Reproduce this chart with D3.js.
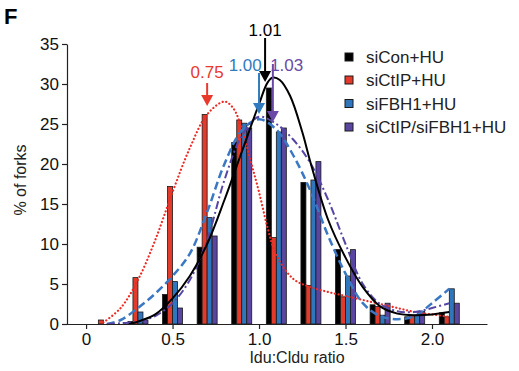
<!DOCTYPE html>
<html>
<head>
<meta charset="utf-8">
<script src="https://cdn.jsdelivr.net/npm/d3@7"></script>
<style>
  body { margin: 0; background: #fff; }
  svg { font-family: "Liberation Sans", Arial, sans-serif; }
</style>
</head>
<body>
<svg width="519" height="371"></svg>
<script>
// bin centres of the histogram (Idu:Cldu ratio)
var bins = [0.1, 0.3, 0.5, 0.7, 0.9, 1.1, 1.3, 1.5, 1.7, 1.9, 2.1];
var groups = ["siCon+HU", "siCtIP+HU", "siFBH1+HU", "siCtIP/siFBH1+HU"];

// % of forks per bin
var siCon = [0, 0.3, 3.7, 9.6, 22.7, 29.5, 17.7, 9.3, 2.4, 0.9, 1.4];
var siCtIP = [0.5, 5.8, 17.2, 26.2, 25.5, 10.8, 4.8, 3.4, 2.2, 1.1, 0.9];
var siFBH1 = [0, 1.5, 5.3, 13.3, 25.1, 24.0, 18.0, 6.0, 1.1, 1.1, 4.4];
var siBoth = [0, 0.5, 2.0, 11.0, 24.5, 24.5, 20.3, 9.3, 2.6, 1.6, 2.6];

// fitted curves as [ratio, %]
var fitCon = [[0.25,0],[0.3,0.3],[0.4,1.2],[0.5,3.2],[0.6,6.0],[0.7,10],[0.8,15.5],[0.9,21.5],[1.0,27.5],[1.05,30.2],[1.08,30.8],[1.12,30.5],[1.18,28.5],[1.25,24],[1.3,20],[1.4,13],[1.5,8.3],[1.6,4.6],[1.7,2.2],[1.8,1.3],[1.9,1.1],[2.0,1.2],[2.1,1.5]];
var fitCtIP = [[0.1,0.2],[0.2,2.0],[0.3,5.5],[0.4,10.5],[0.5,16.5],[0.6,22],[0.7,26.2],[0.8,27.8],[0.85,27],[0.9,24.5],[0.95,20.5],[1.0,16.5],[1.05,12],[1.1,8.6],[1.2,5.6],[1.3,4.6],[1.4,4.0],[1.5,3.5],[1.6,3.0],[1.7,2.5],[1.8,2.0],[1.9,1.5],[2.0,1.2],[2.1,0.9]];
var fitFBH1 = [[0.12,0],[0.2,0.5],[0.3,2.0],[0.4,3.8],[0.5,6.0],[0.6,8.8],[0.7,14],[0.8,20],[0.9,24.2],[1.0,25.6],[1.1,24.3],[1.2,21],[1.3,16.5],[1.4,11],[1.5,6.3],[1.6,2.6],[1.7,1.0],[1.8,0.6],[1.9,1.0],[2.0,2.6],[2.1,4.4]];
var fitBoth = [[0.12,0],[0.2,0.1],[0.3,0.3],[0.4,1.0],[0.5,2.6],[0.6,5.5],[0.7,10.5],[0.8,18],[0.9,23.5],[1.0,25.9],[1.1,25],[1.2,23],[1.3,20],[1.4,15.5],[1.5,10],[1.6,5],[1.7,2.5],[1.8,1.6],[1.9,1.5],[2.0,2.0],[2.1,2.6]];

// mean annotations: label, x position of arrow, colour
var means = [
  {label: "0.75", at: 0.70, color: "#e8392c"},
  {label: "1.00", at: 1.00, color: "#2f7bbf"},
  {label: "1.01", at: 1.035, color: "#000"},
  {label: "1.03", at: 1.08, color: "#6a4aa6"}
];

var colors = ["#000000", "#e23b2b", "#2f76bd", "#5a45a0"];

var svg = d3.select("svg");

var x = d3.scaleLinear().domain([-0.116, 2.318]).range([66, 487]);
var y = d3.scaleLinear().domain([0, 35]).range([324, 44]);
var sub = d3.scaleBand().domain(groups).range([-10, 10]);

// bars
var series = [siCon, siCtIP, siFBH1, siBoth];
series.forEach(function(vals, gi) {
  svg.append("g").selectAll("rect")
    .data(vals)
    .enter().append("rect")
    .attr("x", function(d, i) { return x(bins[i]) + sub(groups[gi]); })
    .attr("y", function(d) { return y(d); })
    .attr("width", sub.bandwidth())
    .attr("height", function(d) { return y(0) - y(d); })
    .attr("fill", colors[gi])
    .attr("stroke", "#1a1a1a")
    .attr("stroke-width", 0.8);
});

// fitted curves
var line = d3.line()
  .x(function(d) { return x(d[0]); })
  .y(function(d) { return y(d[1]); })
  .curve(d3.curveCatmullRom);

svg.append("path").datum(fitCtIP)
  .attr("fill", "none").attr("stroke", "#ee2a24").attr("stroke-width", 2.2)
  .attr("stroke-linecap", "round").attr("stroke-dasharray", "0.1,3.6")
  .attr("d", line);
svg.append("path").datum(fitFBH1)
  .attr("fill", "none").attr("stroke", "#3a78c4").attr("stroke-width", 2.5)
  .attr("stroke-dasharray", "8,4")
  .attr("d", line);
svg.append("path").datum(fitBoth)
  .attr("fill", "none").attr("stroke", "#5546a6").attr("stroke-width", 2)
  .attr("stroke-dasharray", "8,3,2,3")
  .attr("d", line);
svg.append("path").datum(fitCon)
  .attr("fill", "none").attr("stroke", "#000").attr("stroke-width", 2)
  .attr("d", line);

// axes
var yAxis = svg.append("g")
  .attr("transform", "translate(67,0)")
  .call(d3.axisLeft(y).tickValues([0,5,10,15,20,25,30,35]).tickSize(5).tickPadding(3).tickSizeOuter(0));
var xAxis = svg.append("g")
  .attr("transform", "translate(0,324)")
  .call(d3.axisBottom(x).tickValues([0,0.5,1.0,1.5,2.0]).tickSize(5).tickPadding(4).tickSizeOuter(0)
    .tickFormat(function(d) { return d === 0 ? "0" : d3.format(".1f")(d); }));
[yAxis, xAxis].forEach(function(a) {
  a.selectAll("path, line").attr("stroke", "#222").attr("stroke-width", 1.2);
  a.selectAll("text").attr("font-size", 17).attr("fill", "#111")
    .attr("font-family", "Liberation Sans, Arial, sans-serif");
});

// axis titles
svg.append("text")
  .attr("transform", "translate(26,180) rotate(-90)")
  .attr("text-anchor", "middle").attr("font-size", 16).attr("fill", "#222")
  .text("% of forks");
svg.append("text")
  .attr("x", 297).attr("y", 363)
  .attr("text-anchor", "middle").attr("font-size", 16).attr("fill", "#222")
  .text("Idu:Cldu ratio");

// panel letter
svg.append("text")
  .attr("x", 4).attr("y", 24)
  .attr("font-size", 22).attr("font-weight", "bold")
  .text("F");

// mean arrows
var arrowGeom = {
  "0.75": {textY: 78, textX: 0.70, top: 83, tip: 106},
  "1.00": {textY: 71, textX: 0.92, top: 73, tip: 114},
  "1.01": {textY: 36, textX: 1.035, top: 38, tip: 82},
  "1.03": {textY: 71, textX: 1.16, top: 64, tip: 122}
};
means.forEach(function(m) {
  var g = arrowGeom[m.label];
  var ax = x(m.at);
  svg.append("line")
    .attr("x1", ax).attr("x2", ax)
    .attr("y1", g.top).attr("y2", g.tip - 10)
    .attr("stroke", m.color).attr("stroke-width", 2);
  svg.append("path")
    .attr("d", "M" + (ax - 6) + "," + (g.tip - 11) + "L" + (ax + 6) + "," + (g.tip - 11) + "L" + ax + "," + g.tip + "Z")
    .attr("fill", m.color);
  svg.append("text")
    .attr("x", x(g.textX)).attr("y", g.textY)
    .attr("text-anchor", "middle").attr("font-size", 17).attr("fill", m.color)
    .text(m.label);
});

// legend
var legend = svg.append("g").attr("transform", "translate(345,0)");
var legY = [57, 80, 103.5, 127];
groups.forEach(function(name, i) {
  legend.append("rect")
    .attr("x", 0).attr("y", legY[i] - 4).attr("width", 8).attr("height", 8)
    .attr("fill", colors[i]).attr("stroke", "#1a1a1a").attr("stroke-width", 1);
  legend.append("text")
    .attr("x", 21).attr("y", legY[i] + 6)
    .attr("font-size", 17).attr("fill", "#222")
    .text(name);
});
</script>
</body>
</html>
